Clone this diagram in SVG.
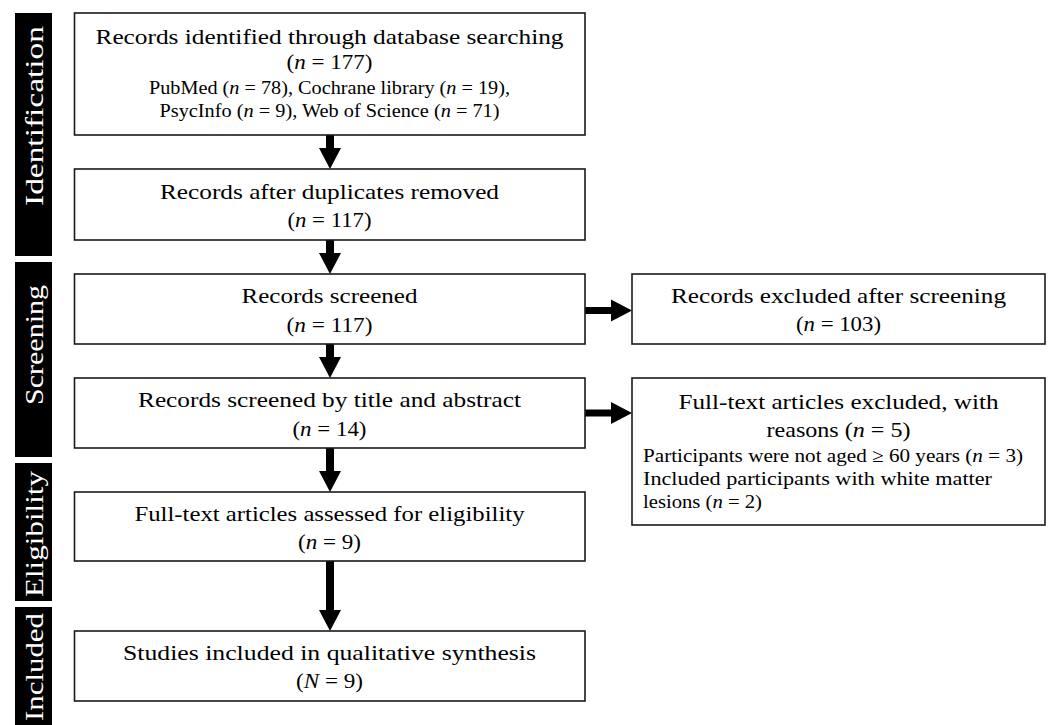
<svg xmlns="http://www.w3.org/2000/svg" width="1049" height="725" viewBox="0 0 1049 725">
<style>
.box{fill:#fff;stroke:#1a1a1a;stroke-width:1.6}
.bar{fill:#000}
.lab{font-family:"Liberation Serif",serif;font-size:26px;fill:#fff;text-anchor:middle}
.t{font-family:"Liberation Serif",serif;font-size:22px;fill:#000;text-anchor:middle}
.s{font-family:"Liberation Serif",serif;font-size:19px;fill:#000}
.c{text-anchor:middle}
.i{font-style:italic}
.arr{fill:#000}
</style>
<rect width="1049" height="725" fill="#fff"/>
<g id="phase-identification">
<rect class="bar" x="15" y="13" width="37" height="243"/>
<text class="lab" transform="translate(42.5,116) rotate(-90)" textLength="180" lengthAdjust="spacingAndGlyphs">Identification</text>
</g>
<g id="phase-screening">
<rect class="bar" x="15" y="262" width="37" height="195"/>
<text class="lab" transform="translate(42.5,345) rotate(-90)" textLength="120" lengthAdjust="spacingAndGlyphs">Screening</text>
</g>
<g id="phase-eligibility">
<rect class="bar" x="15" y="463" width="37" height="138"/>
<text class="lab" transform="translate(42.5,534) rotate(-90)" textLength="126" lengthAdjust="spacingAndGlyphs">Eligibility</text>
</g>
<g id="phase-included">
<rect class="bar" x="15" y="607" width="37" height="118"/>
<text class="lab" transform="translate(42.5,667) rotate(-90)" textLength="108" lengthAdjust="spacingAndGlyphs">Included</text>
</g>
<g id="connectors">
<path class="arr" d="M326,135H334V148H341L330,169L319,148H326Z"/>
<path class="arr" d="M326,240H334V253H341L330,274L319,253H326Z"/>
<path class="arr" d="M326,344H334V357H341L330,378L319,357H326Z"/>
<path class="arr" d="M326,448H334V471H341L330,492L319,471H326Z"/>
<path class="arr" d="M326,561H334V610H341L330,631L319,610H326Z"/>
<path class="arr" d="M585,307H611V299.5L632,310.5L611,321.5V314H585Z"/>
<path class="arr" d="M585,409.5H611V402L632,413L611,424V416.5H585Z"/>
</g>
<g id="node-identified">
<rect class="box" x="74.5" y="13" width="510.5" height="122"/>
<text class="t" x="329.5" y="44" textLength="468" lengthAdjust="spacingAndGlyphs">Records identified through database searching</text>
<text class="t" x="329.5" y="69" textLength="86" lengthAdjust="spacingAndGlyphs">(<tspan class="i">n</tspan> = 177)</text>
<text class="s c" x="329.5" y="94" textLength="361" lengthAdjust="spacingAndGlyphs">PubMed (<tspan class="i">n</tspan> = 78), Cochrane library (<tspan class="i">n</tspan> = 19),</text>
<text class="s c" x="329.5" y="117" textLength="340" lengthAdjust="spacingAndGlyphs">PsycInfo (<tspan class="i">n</tspan> = 9), Web of Science (<tspan class="i">n</tspan> = 71)</text>
</g>
<g id="node-duplicates">
<rect class="box" x="74.5" y="169" width="510.5" height="71"/>
<text class="t" x="329.5" y="199" textLength="339" lengthAdjust="spacingAndGlyphs">Records after duplicates removed</text>
<text class="t" x="329.5" y="227" textLength="84" lengthAdjust="spacingAndGlyphs">(<tspan class="i">n</tspan> = 117)</text>
</g>
<g id="node-screened">
<rect class="box" x="74.5" y="274" width="510.5" height="70"/>
<text class="t" x="329.5" y="303" textLength="176" lengthAdjust="spacingAndGlyphs">Records screened</text>
<text class="t" x="329.5" y="332" textLength="86" lengthAdjust="spacingAndGlyphs">(<tspan class="i">n</tspan> = 117)</text>
</g>
<g id="node-title-abstract">
<rect class="box" x="74.5" y="378" width="510.5" height="70"/>
<text class="t" x="329.5" y="407" textLength="383" lengthAdjust="spacingAndGlyphs">Records screened by title and abstract</text>
<text class="t" x="329.5" y="436" textLength="74" lengthAdjust="spacingAndGlyphs">(<tspan class="i">n</tspan> = 14)</text>
</g>
<g id="node-eligibility">
<rect class="box" x="74.5" y="492" width="510.5" height="69"/>
<text class="t" x="329.5" y="521" textLength="390" lengthAdjust="spacingAndGlyphs">Full-text articles assessed for eligibility</text>
<text class="t" x="329.5" y="549" textLength="63" lengthAdjust="spacingAndGlyphs">(<tspan class="i">n</tspan> = 9)</text>
</g>
<g id="node-included">
<rect class="box" x="74.5" y="631" width="510.5" height="70"/>
<text class="t" x="329.5" y="660" textLength="413" lengthAdjust="spacingAndGlyphs">Studies included in qualitative synthesis</text>
<text class="t" x="329.5" y="688" textLength="67" lengthAdjust="spacingAndGlyphs">(<tspan class="i">N</tspan> = 9)</text>
</g>
<g id="node-excluded-screening">
<rect class="box" x="632" y="274" width="413" height="70"/>
<text class="t" x="838.5" y="303" textLength="335" lengthAdjust="spacingAndGlyphs">Records excluded after screening</text>
<text class="t" x="838.5" y="331" textLength="85" lengthAdjust="spacingAndGlyphs">(<tspan class="i">n</tspan> = 103)</text>
</g>
<g id="node-excluded-fulltext">
<rect class="box" x="632" y="378" width="413" height="147"/>
<text class="t" x="838.5" y="409" textLength="320" lengthAdjust="spacingAndGlyphs">Full-text articles excluded, with</text>
<text class="t" x="838.5" y="437" textLength="144" lengthAdjust="spacingAndGlyphs">reasons (<tspan class="i">n</tspan> = 5)</text>
<text class="s" x="643" y="462" textLength="380" lengthAdjust="spacingAndGlyphs">Participants were not aged ≥ 60 years (<tspan class="i">n</tspan> = 3)</text>
<text class="s" x="643" y="485" textLength="349" lengthAdjust="spacingAndGlyphs">Included participants with white matter</text>
<text class="s" x="643" y="508" textLength="119" lengthAdjust="spacingAndGlyphs">lesions (<tspan class="i">n</tspan> = 2)</text>
</g>
</svg>
